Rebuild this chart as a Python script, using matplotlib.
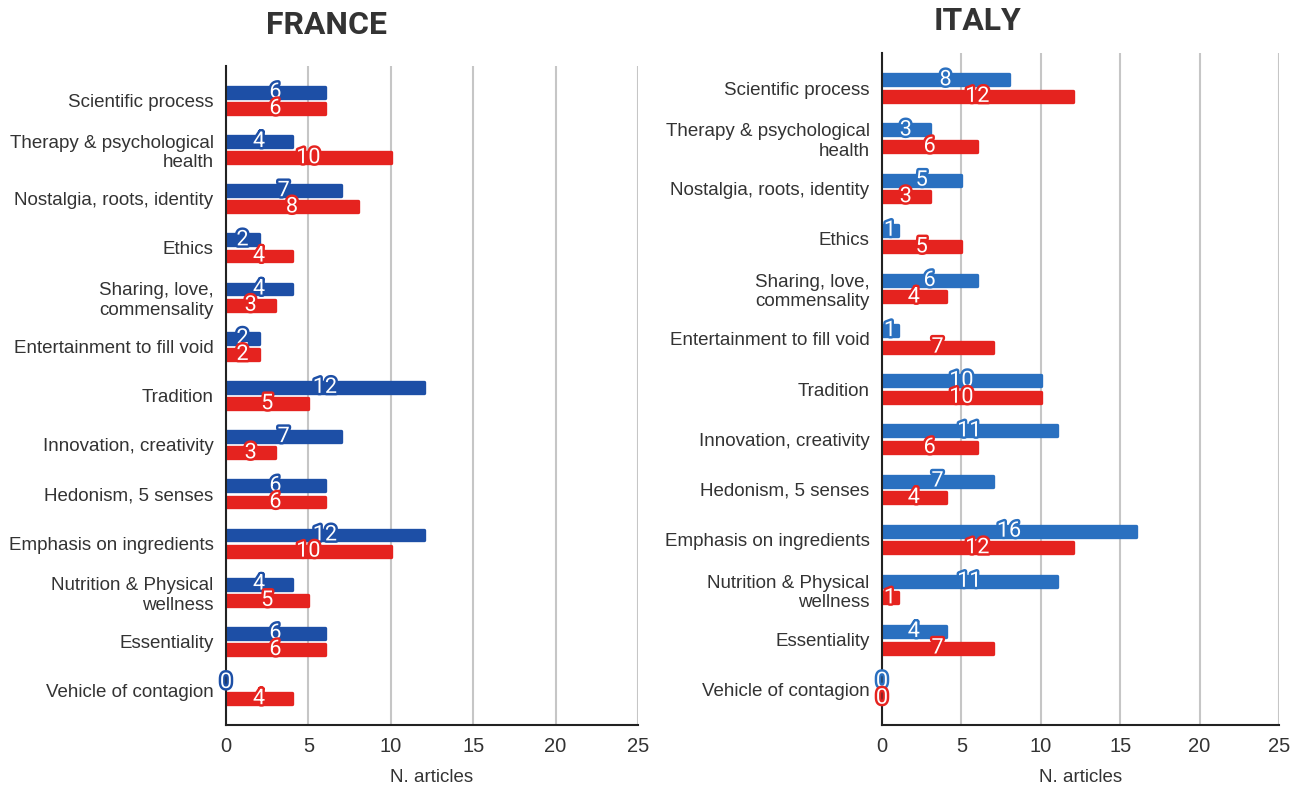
import matplotlib
matplotlib.use("Agg")
import matplotlib.pyplot as plt
import matplotlib.patheffects as pe
import numpy as np

plt.rcParams['font.family'] = ['Liberation Sans', 'DejaVu Sans']

categories = [
    "Scientific process",
    "Therapy & psychological\nhealth",
    "Nostalgia, roots, identity",
    "Ethics",
    "Sharing, love,\ncommensality",
    "Entertainment to fill void",
    "Tradition",
    "Innovation, creativity",
    "Hedonism, 5 senses",
    "Emphasis on ingredients",
    "Nutrition & Physical\nwellness",
    "Essentiality",
    "Vehicle of contagion",
]

france_blue = [6, 4, 7, 2, 4, 2, 12, 7, 6, 12, 4, 6, 0]
france_red = [6, 10, 8, 4, 3, 2, 5, 3, 6, 10, 5, 6, 4]
italy_blue = [8, 3, 5, 1, 6, 1, 10, 11, 7, 16, 11, 4, 0]
italy_red = [12, 6, 3, 5, 4, 7, 10, 6, 4, 12, 1, 7, 0]

x_ticks = [0, 5, 10, 15, 20, 25]

RED = "#e5231f"
TEXT = "#333333"

fig = plt.figure(figsize=(12.99, 7.89), dpi=100)

panels = [
    # (title, blue values, red values, blue colour, axes rect, title x, title y)
    ("FRANCE", france_blue, france_red, "#1d4fa6",
     [226 / 1299, 1 - 725 / 789, (638 - 226) / 1299, (725 - 66) / 789], 327 / 1299, 1 - 25 / 789),
    ("ITALY", italy_blue, italy_red, "#2a70c0",
     [882 / 1299, 1 - 725 / 789, (1279 - 882) / 1299, (725 - 53) / 789], 978 / 1299, 1 - 21 / 789),
]

for title, blue, red, blue_col, rect, tx, ty in panels:
    ax = fig.add_axes(rect)
    y = np.arange(len(categories))
    off = 0.165
    h = 0.22
    for vals, col, dy in ((blue, blue_col, -off), (red, RED, off)):
        ax.barh(y + dy, vals, height=h, color=col, edgecolor=col,
                linewidth=2.4, joinstyle="round", zorder=3)
        for yi, v in zip(y, vals):
            ax.text(v / 2, yi + dy, str(v), ha="center", va="center",
                    color="white", fontsize=15.5, zorder=5,
                    family=["Roboto", "DejaVu Sans"],
                    path_effects=[pe.withStroke(linewidth=3.5, foreground=col)])

    ax.set_ylim(len(categories) - 1 + 0.7, -0.7)
    ax.set_xlim(0, 25)
    ax.set_xticks(x_ticks)
    ax.set_yticks(y)
    ax.set_yticklabels(categories, fontsize=13.5, color=TEXT)
    ax.tick_params(axis="y", length=0, pad=9)
    ax.tick_params(axis="x", length=0, pad=9, labelsize=14.5, labelcolor=TEXT)
    ax.grid(axis="x", color="#c6c6c6", linewidth=1.5, zorder=0)
    ax.set_axisbelow(True)
    for s in ("top", "right"):
        ax.spines[s].set_visible(False)
    ax.spines["left"].set_color("#222222")
    ax.spines["left"].set_linewidth(1.5)
    ax.spines["bottom"].set_color("#222222")
    ax.spines["bottom"].set_linewidth(1.5)
    ax.spines["left"].set_zorder(4)
    ax.set_xlabel("N. articles", fontsize=13.5, color=TEXT, labelpad=9)
    fig.text(tx, ty, title, ha="center", va="center", fontsize=23,
             fontweight="bold", color="#333333", family=["Roboto", "DejaVu Sans"])

fig.savefig("out.png", dpi=100)
